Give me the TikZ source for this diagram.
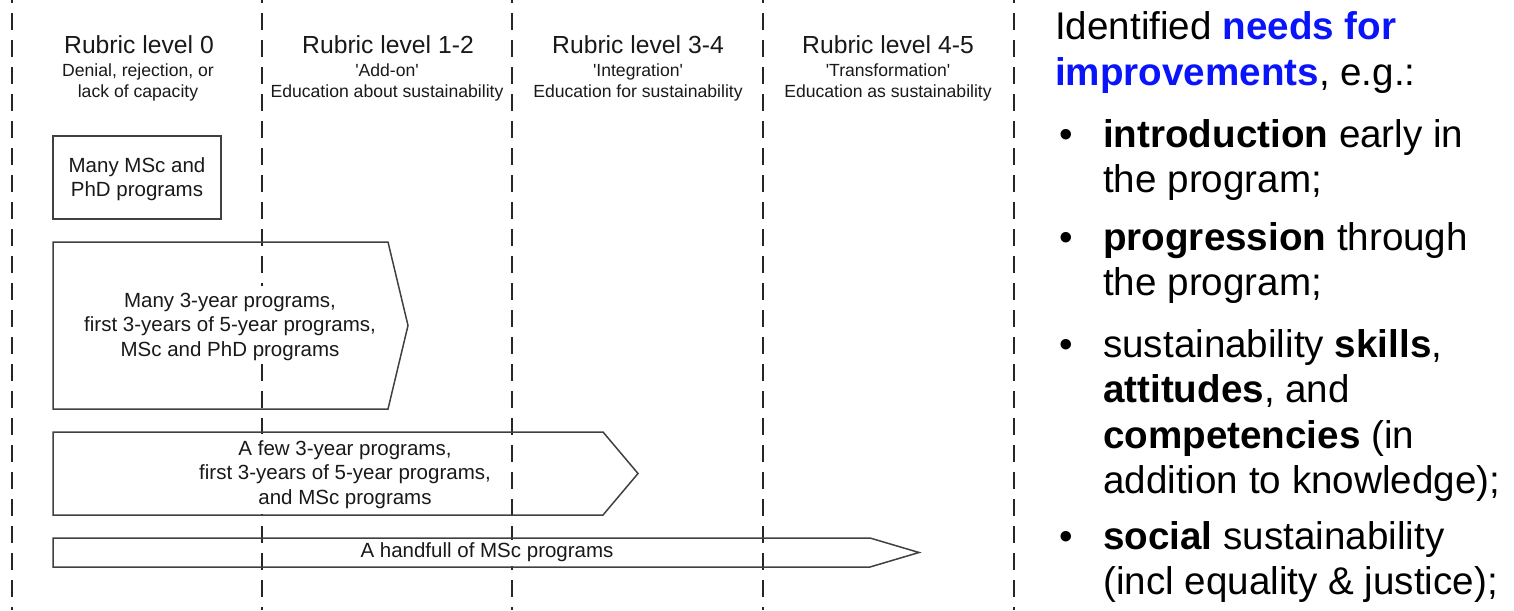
\documentclass[tikz,border=0pt]{standalone}
\usepackage{fontspec}
\setmainfont{Liberation Sans}[Ligatures=TeXOff]
\definecolor{needblue}{RGB}{10,20,250}
\begin{document}
\begin{tikzpicture}[x=1pt,y=-1pt,
  divider/.style={line width=2.2pt, black!85, dash pattern=on 17pt off 10pt, dash phase=14pt},
  boxline/.style={line width=1.5pt, black!75, line join=miter},
  textpad/.style={fill=white},
  head/.style={anchor=base, inner sep=0pt, font=\fontsize{24.7}{29}\selectfont, text=black!90},
  sub/.style={anchor=base, inner sep=0pt, font=\fontsize{17.6}{21}\selectfont, text=black!90},
  boxtext/.style={anchor=base, inner sep=0pt, font=\fontsize{20.5}{24}\selectfont, text=black!90},
  needs/.style={anchor=base west, inner sep=0pt, font=\fontsize{38.6}{45}\selectfont, text=black},
  bul/.style={anchor=base, inner sep=0pt, font=\fontsize{38.6}{45}\selectfont, text=black},
]
\useasboundingbox (0,0) rectangle (1514,610);

% column dividers
\foreach \cx/\nm in {12/d0,262/d1,512/d2,763/d3,1014/d4}{
  \coordinate (\nm top) at (\cx,0);
  \coordinate (\nm bot) at (\cx,610);
  \draw[divider] (\nm top) -- (\nm bot);
}

% column headings
\node[head] (h0) at (139,53) {Rubric level 0};
\node[sub]  (h0a) at (138,76) {Denial, rejection, or};
\node[sub]  (h0b) at (138,97) {lack of capacity};

\node[head] (h1) at (388,53) {Rubric level 1-2};
\node[sub]  (h1a) at (387,76) {'Add-on'};
\node[sub]  (h1b) at (387,97) {Education about sustainability};

\node[head] (h2) at (638,53) {Rubric level 3-4};
\node[sub]  (h2a) at (638,76) {'Integration'};
\node[sub]  (h2b) at (638,97) {Education for sustainability};

\node[head] (h3) at (888,53) {Rubric level 4-5};
\node[sub]  (h3a) at (888,76) {'Transformation'};
\node[sub]  (h3b) at (888,97) {Education as sustainability};

% level 0 only
\draw[boxline] (53,136) rectangle (221,219);
\node[boxtext] (b1a) at (137,172) {Many MSc and};
\node[boxtext] (b1b) at (137,196) {PhD programs};

% reaching level 1-2
\draw[boxline] (53,242) -- (388,242) -- (408,325.5) -- (388,409) -- (53,409) -- cycle;
\fill[textpad] (84,286) rectangle (377,362);
\node[boxtext] (b2a) at (230,307) {Many 3-year programs,};
\node[boxtext] (b2b) at (230,331.5) {first 3-years of 5-year programs,};
\node[boxtext] (b2c) at (230,356) {MSc and PhD programs};

% reaching level 3-4
\draw[boxline] (53,432) -- (603,432) -- (638,473.5) -- (603,515) -- (53,515) -- cycle;
\fill[textpad] (198,433.5) rectangle (493,513.5);
\node[boxtext] (b3a) at (345,455) {A few 3-year programs,};
\node[boxtext] (b3b) at (345,479.5) {first 3-years of 5-year programs,};
\node[boxtext] (b3c) at (345,504) {and MSc programs};

% reaching level 4-5
\draw[boxline] (53,538) -- (870,538) -- (919,552.5) -- (870,567) -- (53,567) -- cycle;
\fill[textpad] (358,539.5) rectangle (615,565.5);
\node[boxtext] (b4) at (487,557) {A handfull of MSc programs};

% identified needs
\node[needs] (n1) at (1055,40) {Identified \textcolor{needblue}{\textbf{needs for}}};
\node[needs] (n2) at (1055,85) {\textcolor{needblue}{\textbf{improvements}}, e.g.:};

\node[bul] (p1) at (1066,147) {\textbullet};
\node[needs] (i1a) at (1103,147) {\textbf{introduction} early in};
\node[needs] (i1b) at (1103,192) {the program;};

\node[bul] (p2) at (1066,250) {\textbullet};
\node[needs] (i2a) at (1103,250) {\textbf{progression} through};
\node[needs] (i2b) at (1103,295) {the program;};

\node[bul] (p3) at (1066,357) {\textbullet};
\node[needs] (i3a) at (1103,357) {sustainability \textbf{skills},};
\node[needs] (i3b) at (1103,402) {\textbf{attitudes}, and};
\node[needs] (i3c) at (1103,448) {\textbf{competencies} (in};
\node[needs] (i3d) at (1103,493) {addition to knowledge);};

\node[bul] (p4) at (1066,549) {\textbullet};
\node[needs] (i4a) at (1103,549) {\textbf{social} sustainability};
\node[needs] (i4b) at (1103,594) {(incl equality \& justice);};
\end{tikzpicture}
\end{document}
